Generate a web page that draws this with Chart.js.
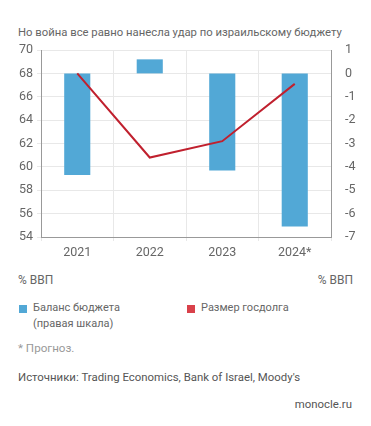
<!DOCTYPE html>
<html>
<head>
<meta charset="utf-8">
<script src="https://cdn.jsdelivr.net/npm/chart.js@4"></script>
<style>
  body { margin: 0; background: #fff; font-family: Roboto, sans-serif; color: #555; }
  #wrap { position: relative; width: 371px; height: 426px; }
  .t { position: absolute; white-space: nowrap; }
  .sq { position: absolute; width: 8px; height: 8px; }
</style>
</head>
<body>
<div id="wrap">
  <div class="t" style="left:18px;top:26px;font-size:11.3px;color:#666;">Но война все равно нанесла удар по израильскому бюджету</div>
  <div style="position:absolute;left:0;top:0;width:371px;height:270px;"><canvas id="chart"></canvas></div>
  <div class="t" style="left:18px;top:273px;font-size:12px;color:#666;">% ВВП</div>
  <div class="t" style="right:18px;top:273px;font-size:12px;color:#666;">% ВВП</div>
  <div class="sq" style="left:19px;top:305px;background:#52a8d6;"></div>
  <div class="t" style="left:33px;top:300px;font-size:11px;line-height:16px;color:#666;">Баланс бюджета<br>(правая шкала)</div>
  <div class="sq" style="left:187px;top:305px;background:#d9414a;"></div>
  <div class="t" style="left:201px;top:300px;font-size:11px;line-height:16px;color:#666;">Размер госдолга</div>
  <div class="t" style="left:18px;top:341px;font-size:11.6px;color:#999;">* Прогноз.</div>
  <div class="t" style="left:18px;top:370px;font-size:11.4px;color:#555;">Источники: Trading Economics, Bank of Israel, Moody's</div>
  <div class="t" style="right:19px;top:397px;font-size:11.4px;color:#555;">monocle.ru</div>
</div>
<script>
const years = ["2021", "2022", "2023", "2024*"];
const budgetBalance = [-4.35, 0.6, -4.15, -6.55];
const publicDebt = [68.0, 60.8, 62.2, 67.1];
const leftTicks = [54, 56, 58, 60, 62, 64, 66, 68, 70];
const rightTicks = [-7, -6, -5, -4, -3, -2, -1, 0, 1];

const tickFont = { family: "Roboto", size: 12.5 };

new Chart(document.getElementById("chart"), {
  type: "bar",
  data: {
    labels: years,
    datasets: [
      {
        type: "line",
        label: "Размер госдолга",
        data: publicDebt,
        yAxisID: "y",
        borderColor: "#c0202e",
        borderWidth: 2,
        pointRadius: 0,
        tension: 0,
        order: 0
      },
      {
        label: "Баланс бюджета",
        data: budgetBalance,
        yAxisID: "y1",
        backgroundColor: "#52a8d6",
        barPercentage: 0.36,
        categoryPercentage: 1,
        order: 1
      }
    ]
  },
  options: {
    responsive: true,
    maintainAspectRatio: false,
    animation: false,
    layout: { padding: { top: 50, left: 0, right: 0, bottom: 0 } },
    plugins: { legend: { display: false }, tooltip: { enabled: false } },
    scales: {
      x: {
        grid: { color: "#e8e8e8", offset: true, tickLength: 4 },
        border: { color: "#999" },
        ticks: { color: "#666", font: tickFont, padding: 4 },
        afterFit: s => { s.height = 33; }
      },
      y: {
        position: "left",
        min: 54, max: 70,
        afterBuildTicks: s => { s.ticks = leftTicks.map(v => ({ value: v })); },
        grid: { color: "#e8e8e8", tickLength: 4 },
        border: { color: "#999" },
        ticks: { color: "#666", font: tickFont, padding: 4 },
        afterFit: s => { s.width = 41; }
      },
      y1: {
        position: "right",
        min: -7, max: 1,
        afterBuildTicks: s => { s.ticks = rightTicks.map(v => ({ value: v })); },
        grid: { display: false },
        border: { color: "#999" },
        ticks: { color: "#666", font: tickFont, padding: 6 },
        afterFit: s => { s.width = 40; }
      }
    }
  }
});
</script>
</body>
</html>
